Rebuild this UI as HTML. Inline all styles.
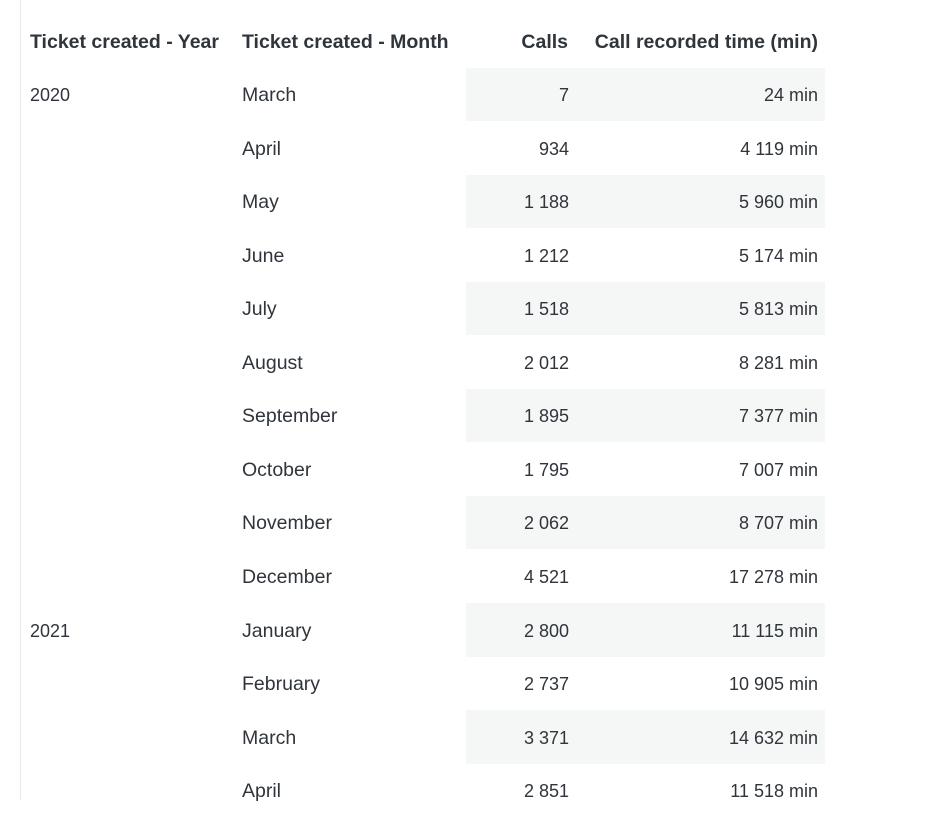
<!DOCTYPE html>
<html><head><style>
body{margin:0;width:934px;height:825px;background:#fff;position:relative;overflow:hidden;font-family:"Liberation Sans",sans-serif;color:#2f353b;font-size:18px}
.l{position:absolute;left:20px;top:0;width:1px;height:800px;background:#e6e8ea}
.h{position:absolute;top:30px;font-weight:bold;font-size:19.5px;white-space:nowrap;line-height:24px}
.t{position:absolute;white-space:nowrap;line-height:24px}
.w{font-size:19.5px}
.r{text-align:right}
.b{position:absolute;left:466px;width:359px;height:53.5px;background:#f5f7f7}
</style></head><body>
<div class="l"></div>
<div class="h" style="left:30px">Ticket created - Year</div>
<div class="h" style="left:242px">Ticket created - Month</div>
<div class="h r" style="right:366px">Calls</div>
<div class="h r" style="right:116px">Call recorded time (min)</div>
<div id="c"></div>
<script>
var d=[["2020","March","7","24"],["","April","934","4 119"],["","May","1 188","5 960"],["","June","1 212","5 174"],["","July","1 518","5 813"],["","August","2 012","8 281"],["","September","1 895","7 377"],["","October","1 795","7 007"],["","November","2 062","8 707"],["","December","4 521","17 278"],["2021","January","2 800","11 115"],["","February","2 737","10 905"],["","March","3 371","14 632"],["","April","2 851","11 518"]];
var h="";
d.forEach(function(r,i){var y=95+i*53.55;
if(i%2==0)h+='<div class="b" style="top:'+(y-27.5)+'px"></div>';
var ty=y-12;
if(r[0])h+='<div class="t" style="left:30px;top:'+ty+'px">'+r[0]+'</div>';
h+='<div class="t w" style="left:242px;top:'+ty+'px">'+r[1]+'</div>';
h+='<div class="t r" style="right:365px;top:'+ty+'px">'+r[2]+'</div>';
h+='<div class="t r" style="right:116px;top:'+ty+'px">'+r[3]+' min</div>';});
document.getElementById("c").innerHTML=h;
</script>
</body></html>
